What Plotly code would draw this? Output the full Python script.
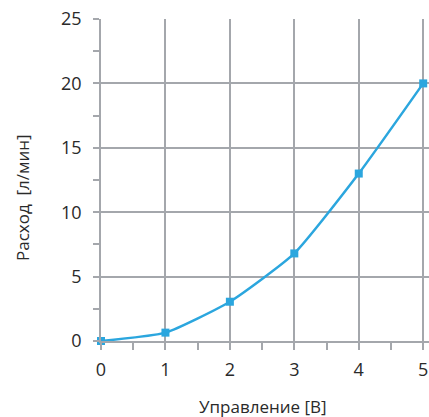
import plotly.graph_objects as go

voltage = [0, 1, 2, 3, 4, 5]
flow = [0, 0.65, 3.05, 6.8, 13.0, 20.0]
x_ticks = [0, 1, 2, 3, 4, 5]
y_ticks = [0, 5, 10, 15, 20, 25]
x_title = "Управление [В]"
y_title = "Расход\u00a0 [л/мин]"

line_color = "#2ba6de"
grid_color = "#a4a7ac"
text_color = "#2a2a2a"
font_family = "Open Sans, Noto Sans, sans-serif"

fig = go.Figure()
fig.add_trace(go.Scatter(
    x=voltage, y=flow, mode="lines+markers",
    line=dict(color=line_color, width=2.5, shape="spline", smoothing=0.5),
    marker=dict(symbol="square", size=8, color=line_color),
    cliponaxis=False, showlegend=False,
))

fig.update_layout(
    width=429, height=417,
    margin=dict(l=101, r=0, t=19, b=76),
    plot_bgcolor="white", paper_bgcolor="white",
    font=dict(family=font_family, color=text_color),
    annotations=[
        dict(text=x_title, xref="paper", yref="paper", x=0.493, y=0,
             xanchor="center", yanchor="middle",
             yshift=-65, showarrow=False, font=dict(size=17, color=text_color)),
        dict(text=y_title, xref="paper", yref="paper", x=0, y=0.444,
             xanchor="center", yanchor="middle",
             xshift=-79, textangle=-90, showarrow=False, font=dict(size=17, color=text_color)),
    ],
)
fig.update_xaxes(
    range=[0, 5.09], tickvals=x_ticks, ticktext=[str(v) for v in x_ticks],
    automargin=False, ticklabeloverflow="allow",
    showgrid=True, gridcolor=grid_color, gridwidth=1.5,
    showline=True, linecolor=grid_color, linewidth=1.5,
    ticks="", ticklabelstandoff=12,
    minor=dict(dtick=0.5, ticks="outside", ticklen=7, tickcolor=grid_color, tickwidth=1.5, showgrid=False),
    tickfont=dict(size=18, color=text_color),
    zeroline=False,
)
fig.update_yaxes(
    range=[0, 25], tickvals=y_ticks, ticktext=[str(v) for v in y_ticks],
    automargin=False, ticklabeloverflow="allow",
    showgrid=True, gridcolor=grid_color, gridwidth=1.5,
    showline=True, linecolor=grid_color, linewidth=1.5,
    ticks="outside", ticklen=6, tickcolor=grid_color, tickwidth=1.5,
    ticklabelstandoff=8,
    minor=dict(dtick=2.5, ticks="outside", ticklen=6, tickcolor=grid_color, tickwidth=1.5, showgrid=False),
    tickfont=dict(size=18, color=text_color),
    zeroline=False,
)

fig.write_html(
    "out.html",
    config={"displayModeBar": False},
    post_script="document.body.style.margin='0';document.documentElement.style.overflow='hidden';",
)
